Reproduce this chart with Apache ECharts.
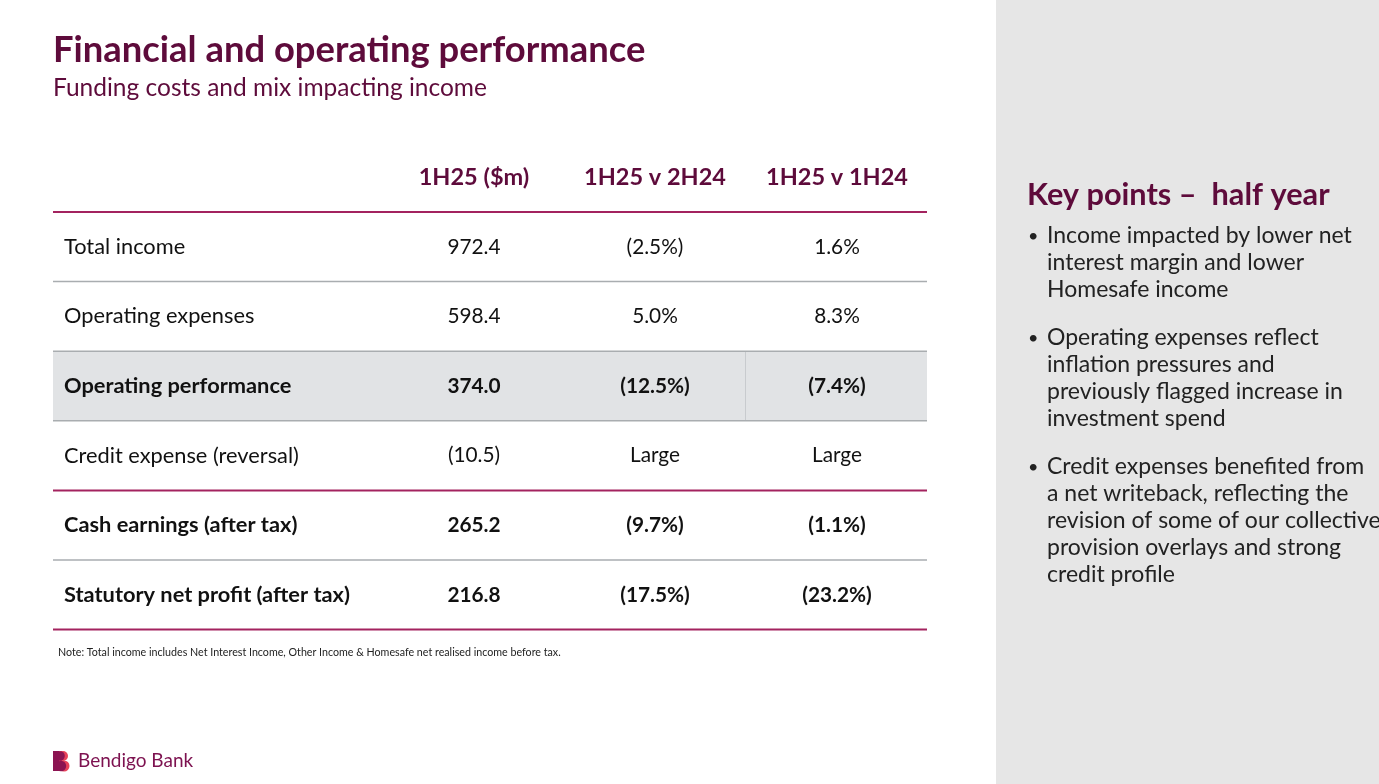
<!DOCTYPE html>
<html><head><meta charset="utf-8">
<script src="https://cdn.jsdelivr.net/npm/echarts@6/dist/echarts.min.js"></script>
<style>html,body{margin:0;padding:0;background:#fff}#c{width:1379px;height:784px}</style>
</head><body><div id="c"></div>
<script>
// ---- data ----
const title = 'Financial and operating performance';
const subtitle = 'Funding costs and mix impacting income';
const headers = ['1H25 ($m)', '1H25 v 2H24', '1H25 v 1H24'];
const rowLabels = ['Total income', 'Operating expenses', 'Operating performance', 'Credit expense (reversal)', 'Cash earnings (after tax)', 'Statutory net profit (after tax)'];
const valueCol = ['972.4', '598.4', '374.0', '(10.5)', '265.2', '216.8'];
const vs2H24 = ['(2.5%)', '5.0%', '(12.5%)', 'Large', '(9.7%)', '(17.5%)'];
const vs1H24 = ['1.6%', '8.3%', '(7.4%)', 'Large', '(1.1%)', '(23.2%)'];
const boldRows = [false, false, true, false, true, true];
const note = 'Note: Total income includes Net Interest Income, Other Income & Homesafe net realised income before tax.';
const keyTitle = 'Key points \u2013  half year';
const keyPoints = [
  ['Income impacted by lower net', 'interest margin and lower', 'Homesafe income'],
  ['Operating expenses reflect', 'inflation pressures and', 'previously flagged increase in', 'investment spend'],
  ['Credit expenses benefited from', 'a net writeback, reflecting the', 'revision of some of our collective', 'provision overlays and strong', 'credit profile']
];
const brand = 'Bendigo Bank';

// ---- layout ----
const FONT = 'Lato, "Open Sans", sans-serif';
const PLUM = '#5e0b3b';
const MAGENTA = '#a3235f';
const GREY = '#a9adb0';
const tableLeft = 53, tableRight = 927;
const headerLineY = 212, rowH = 69.6;
const colX = [474, 655, 837];
const g = [];

// right panel
g.push({type:'rect', shape:{x:996, y:0, width:383, height:784}, style:{fill:'#e6e6e6'}, z:0});

// title
g.push({type:'text', style:{text:title, x:53, y:50, font:'bold 36.4px ' + FONT, fill:PLUM, textVerticalAlign:'middle'}});
g.push({type:'text', style:{text:subtitle, x:53, y:88, font:'24.5px ' + FONT, fill:PLUM, textVerticalAlign:'middle'}});

// headers
headers.forEach((h, i) => {
  g.push({type:'text', style:{text:h, x:colX[i], y:177, font:'bold 23.5px ' + FONT, fill:PLUM, textAlign:'center', textVerticalAlign:'middle'}});
});

// rows
rowLabels.forEach((lab, r) => {
  const top = headerLineY + r * rowH;
  const cy = top + rowH / 2;
  if (r === 2) {
    g.push({type:'rect', shape:{x:tableLeft, y:top, width:tableRight - tableLeft, height:rowH}, style:{fill:'#e1e3e5'}, z:1});
    g.push({type:'line', shape:{x1:745.5, y1:top, x2:745.5, y2:top + rowH}, style:{stroke:'#c8cbce', lineWidth:1}, z:2});
  }
  const w = boldRows[r] ? 'bold ' : '';
  const fill = '#111';
  g.push({type:'text', z:3, style:{text:lab, x:64, y:cy, font:w + '21.8px ' + FONT, fill:fill, textVerticalAlign:'middle'}});
  [valueCol[r], vs2H24[r], vs1H24[r]].forEach((v, c) => {
    g.push({type:'text', z:3, style:{text:v, x:colX[c], y:cy, font:w + '20.8px ' + FONT, fill:fill, textAlign:'center', textVerticalAlign:'middle'}});
  });
});
// lines
for (let k = 0; k <= rowLabels.length; k++) {
  const y = headerLineY + k * rowH;
  const mag = (k === 0 || k === 4 || k === 6);
  g.push({type:'line', z:4, shape:{x1:tableLeft, y1:y, x2:tableRight, y2:y}, style:{stroke:mag ? MAGENTA : GREY, lineWidth:mag ? 2 : 1.5}});
}

// note
g.push({type:'text', style:{text:note, x:58, y:653, font:'10.7px ' + FONT, fill:'#222', textVerticalAlign:'middle'}});

// logo
g.push({type:'rect', shape:{x:56, y:751, width:6, height:20}, style:{fill:'#e8425a'}});
g.push({type:'circle', shape:{cx:63, cy:756, r:5}, style:{fill:'#e8425a'}});
g.push({type:'circle', shape:{cx:64, cy:766, r:5.5}, style:{fill:'#e8425a'}});
g.push({type:'rect', shape:{x:53, y:751, width:6, height:20}, style:{fill:'#8c1452'}, z:2});
g.push({type:'circle', shape:{cx:60, cy:756, r:4.8}, style:{fill:'#8c1452'}, z:2});
g.push({type:'circle', shape:{cx:61, cy:766, r:5.2}, style:{fill:'#8c1452'}, z:2});
g.push({type:'text', style:{text:brand, x:78, y:761, font:'19px ' + FONT, fill:'#7d1250', textVerticalAlign:'middle'}});

// key points
g.push({type:'text', z:2, style:{text:keyTitle, x:1027, y:195, font:'bold 30.7px ' + FONT, fill:PLUM, textVerticalAlign:'middle'}});
const bulletStarts = [236, 338, 467];
keyPoints.forEach((lines, b) => {
  g.push({type:'text', z:2, style:{text:'\u2022', x:1028, y:bulletStarts[b], font:'18px ' + FONT, fill:'#222', textVerticalAlign:'middle'}});
  lines.forEach((ln, i) => {
    g.push({type:'text', z:2, style:{text:ln, x:1047, y:bulletStarts[b] + i * 26.9, font:'23px ' + FONT, fill:'#222', textVerticalAlign:'middle'}});
  });
});

const chart = echarts.init(document.getElementById('c'), null, {renderer:'canvas'});
chart.setOption({animation:false, graphic:{elements:g}});
</script></body></html>
